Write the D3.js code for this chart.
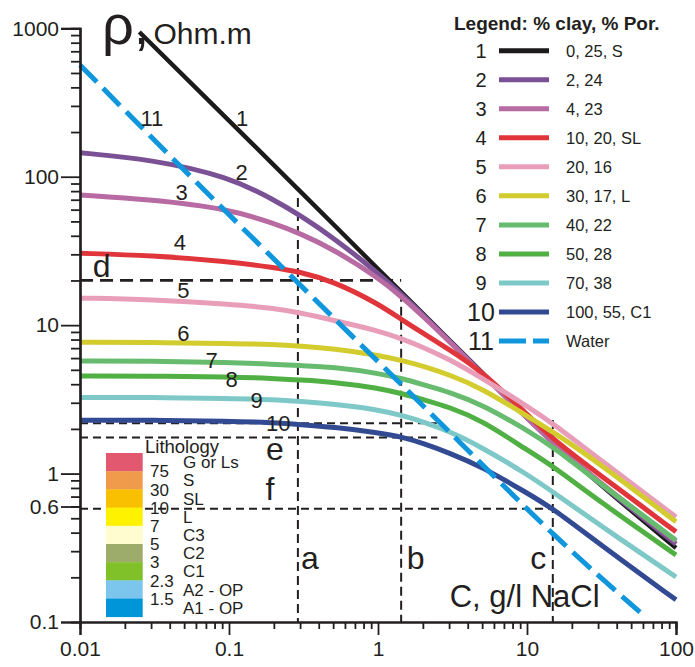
<!DOCTYPE html>
<html>
<head>
<meta charset="utf-8">
<script src="https://cdn.jsdelivr.net/npm/d3@7"></script>
<style>
  body { margin: 0; background: #fff; }
  svg { font-family: "Liberation Sans", Arial, sans-serif; }
</style>
</head>
<body>
<svg id="chart" width="695" height="667">
  <g id="guides"></g>
  <g id="curves"></g>
  <g id="x_axis"></g>
  <g id="y_axis"></g>
  <g id="labels"></g>
  <g id="legend"></g>
  <g id="litho"></g>
</svg>
<script>
// concentration grid, g/l NaCl (curves 2-10)
let conc = [0.01, 0.03, 0.1, 0.2, 0.3, 0.5, 1, 1.5, 2, 3, 5, 10, 15, 30, 100]

// resistivity, Ohm.m
let rho_2 = [145, 131, 100, 70, 55, 39, 22.5, 15.5, 11.8, 7.85, 4.72, 2.37, 1.6, 0.87, 0.335]
let rho_3 = [75.3, 70.2, 60.6, 48.5, 41.5, 32.5, 21, 15, 11.5, 7.8, 4.7, 2.37, 1.61, 0.88, 0.35]
let rho_4 = [30.5, 29.5, 26.8, 24.5, 22.8, 19.8, 14, 10.6, 8.85, 6.85, 4.88, 2.52, 1.69, 1.0, 0.405]
let rho_5 = [15.2, 14.9, 13.9, 13.0, 12.1, 10.8, 9.2, 8.0, 7.1, 5.9, 4.4, 2.85, 2.17, 1.27, 0.51]
let rho_6 = [7.66, 7.64, 7.54, 7.4, 7.23, 6.96, 6.29, 5.73, 5.3, 4.64, 3.75, 2.44, 1.91, 1.19, 0.473]
let rho_7 = [5.73, 5.72, 5.6, 5.45, 5.34, 5.22, 4.75, 4.33, 3.98, 3.55, 2.92, 1.96, 1.51, 0.877, 0.356]
let rho_8 = [4.54, 4.53, 4.49, 4.37, 4.27, 4.14, 3.77, 3.43, 3.15, 2.81, 2.28, 1.44, 1.12, 0.66, 0.283]
let rho_9 = [3.26, 3.26, 3.21, 3.15, 3.06, 2.94, 2.70, 2.44, 2.24, 1.93, 1.50, 0.99, 0.75, 0.457, 0.201]
let rho_10 = [2.29, 2.29, 2.26, 2.20, 2.14, 2.06, 1.89, 1.75, 1.60, 1.38, 1.11, 0.74, 0.58, 0.34, 0.141]

// curve 1 (clean sand) and water have their own grids
let conc_1 = [0.025, 0.1, 0.3, 1, 3, 10, 15, 30, 100]
let rho_1 = [944, 239, 80, 23.9, 8.0, 2.40, 1.61, 0.86, 0.315]
let conc_water = [0.01, 0.05, 0.6, 4, 15, 60]
let rho_water = [566, 110, 9.4, 1.45, 0.38, 0.112]

let curve_ids = ["1", "2", "3", "4", "5", "6", "7", "8", "9", "10", "11"]
let legend_labels = ["0, 25, S", "2, 24", "4, 23", "10, 20, SL", "20, 16", "30, 17, L",
  "40, 22", "50, 28", "70, 38", "100, 55, C1", "Water"]
let curve_colors = ["#1c1a1a", "#7a5195", "#b86aa2", "#e0353a", "#e89eb9", "#d2cc2e",
  "#66bb6e", "#50b043", "#7fc8c8", "#324a92", "#0f96dc"]

// curve number labels (conc, rho)
let curve_label_pos = [[0.1225, 248], [0.1215, 108], [0.0481, 79], [0.0468, 36.5], [0.0494, 17.2],
  [0.0494, 8.9], [0.0764, 5.82], [0.104, 4.31], [0.153, 3.13], [0.214, 2.18], [0.0304, 248]]

let x_ticks = [0.01, 0.1, 1, 10, 100]
let x_tick_labels = ["0.01", "0.1", "1", "10", "100"]
let y_ticks = [0.1, 0.6, 1, 10, 100, 1000]
let y_tick_labels = ["0.1", "0.6", "1", "10", "100", "1000"]

// construction lines
let v_guides = [{c: 0.29, top: 72, name: "a"}, {c: 1.43, top: 16.5, name: "b"}, {c: 14.9, top: 2.3, name: "c"}]
let h_guides = [{r: 20, end: 1.43, name: "d"}, {r: 2.18, end: 2.48, name: ""},
  {r: 1.75, end: 2.5, name: "e"}, {r: 0.58, end: 14.9, name: "f"}]
let guide_label_pos = {a: [0.349, 0.27], b: [1.79, 0.27], c: [11.9, 0.27],
  d: [0.014, 25.4], e: [0.203, 1.48], f: [0.188, 0.795]}

let litho_bounds = ["75", "30", "10", "7", "5", "3", "2.3", "1.5"]
let litho_names = ["G or Ls", "S", "SL", "L", "C3", "C2", "C1", "A2 - OP", "A1 - OP"]
let litho_colors = ["#e2586e", "#f09a4b", "#f8c000", "#fff200", "#fffccf", "#9dac6a",
  "#80c12a", "#7cc6ee", "#0094d8"]

let ink = "#231f20"

function make_scales() {
  return {
    x: d3.scaleLog().domain([0.01, 100]).range([80, 676]),
    y: d3.scaleLog().domain([0.1, 1000]).range([622, 28.3])
  }
}

function minor_values(lo, hi) {
  let out = []
  for (let d = lo; d < hi; d *= 10) {
    for (let k = 2; k < 10; k++) out.push(d * k)
  }
  return out
}

function draw_axes(scales) {
  let fmt_x = d => x_tick_labels[x_ticks.indexOf(d)]
  let fmt_y = d => y_tick_labels[y_ticks.indexOf(d)]

  let x_axis = d3.select("#x_axis").attr("transform", `translate(0, ${scales.y(0.1)})`)
  x_axis.append("g")
    .call(d3.axisBottom(scales.x).tickValues(minor_values(0.01, 100)).tickSize(7).tickFormat(""))
  x_axis.append("g")
    .call(d3.axisBottom(scales.x).tickValues(x_ticks).tickSize(13).tickPadding(6).tickFormat(fmt_x))

  let y_axis = d3.select("#y_axis").attr("transform", `translate(${scales.x(0.01)}, 0)`)
  y_axis.append("g")
    .call(d3.axisLeft(scales.y).tickValues(minor_values(0.1, 1000)).tickSize(9).tickFormat(""))
  y_axis.append("g")
    .call(d3.axisLeft(scales.y).tickValues(y_ticks).tickSize(19).tickPadding(2).tickFormat(fmt_y))

  d3.selectAll("#x_axis .domain, #y_axis .domain")
    .attr("stroke", ink).attr("stroke-width", 2.2)
  d3.selectAll("#x_axis line, #y_axis line")
    .attr("stroke", ink).attr("stroke-width", 1.8)
  d3.selectAll("#x_axis text, #y_axis text")
    .attr("fill", ink).style("font-size", "21px").style("font-family", "Liberation Sans, Arial, sans-serif")
}

function draw_guides(scales) {
  let g = d3.select("#guides")
  g.selectAll("line.v")
    .data(v_guides).enter()
    .append("line")
    .attr("class", "v")
    .attr("x1", d => scales.x(d.c)).attr("x2", d => scales.x(d.c))
    .attr("y1", d => scales.y(d.top)).attr("y2", scales.y(0.1))
    .attr("stroke", ink).attr("stroke-width", 2).attr("stroke-dasharray", "9,5")

  g.selectAll("line.h")
    .data(h_guides).enter()
    .append("line")
    .attr("class", "h")
    .attr("x1", scales.x(0.01)).attr("x2", d => scales.x(d.end))
    .attr("y1", d => scales.y(d.r)).attr("y2", d => scales.y(d.r))
    .attr("stroke", ink)
    .attr("stroke-width", d => d.name == "d" ? 2.8 : 2)
    .attr("stroke-dasharray", d => d.name == "d" ? "13,7" : "8,5")
}

function draw_curves(scales) {
  let series = [[conc_1, rho_1], [conc, rho_2], [conc, rho_3], [conc, rho_4], [conc, rho_5],
    [conc, rho_6], [conc, rho_7], [conc, rho_8], [conc, rho_9], [conc, rho_10], [conc_water, rho_water]]

  let path_generator = d3.line()
    .x(d => scales.x(d[0]))
    .y(d => scales.y(d[1]))
    .curve(d3.curveBasis)

  d3.select("#curves")
    .selectAll("path")
    .data(series).enter()
    .append("path")
    .attr("d", d => path_generator(d3.zip(d[0], d[1])))
    .attr("fill", "none")
    .attr("stroke", (d, i) => curve_colors[i])
    .attr("stroke-width", (d, i) => i == 0 ? 4.4 : 5)
    .attr("stroke-dasharray", (d, i) => i == 10 ? "24,9" : null)
}

function draw_labels(scales) {
  let g = d3.select("#labels")
  g.selectAll("text.num")
    .data(curve_label_pos).enter()
    .append("text")
    .attr("class", "num")
    .attr("x", d => scales.x(d[0])).attr("y", d => scales.y(d[1]))
    .attr("dy", "0.36em").attr("text-anchor", "middle")
    .attr("fill", ink).style("font-size", "22px")
    .text((d, i) => curve_ids[i])

  g.selectAll("text.guide")
    .data(Object.keys(guide_label_pos)).enter()
    .append("text")
    .attr("class", "guide")
    .attr("x", d => scales.x(guide_label_pos[d][0])).attr("y", d => scales.y(guide_label_pos[d][1]))
    .attr("dy", "0.36em").attr("text-anchor", "middle")
    .attr("fill", ink).style("font-size", "32px")
    .text(d => d)

  let title = g.append("text")
    .attr("x", scales.x(0.01405)).attr("y", scales.y(783))
    .attr("fill", ink)
  title.append("tspan").style("font-size", "56px").text("ρ,")
  title.append("tspan").style("font-size", "30px").attr("dx", 4).text("Ohm.m")

  g.append("text")
    .attr("x", scales.x(3.03)).attr("y", scales.y(0.126))
    .attr("fill", ink).style("font-size", "31px")
    .text("C, g/l NaCl")
}

function draw_legend() {
  let g = d3.select("#legend")
  g.append("text")
    .attr("x", 454).attr("y", 30)
    .attr("fill", ink).style("font-size", "19px").style("font-weight", "bold")
    .text("Legend: % clay, % Por.")

  let rows = g.selectAll("g.row")
    .data(curve_ids).enter()
    .append("g")
    .attr("class", "row")
    .attr("transform", (d, i) => `translate(0, ${50.7 + i * 29.03})`)

  rows.append("text")
    .attr("x", 481).attr("dy", "0.36em").attr("text-anchor", "middle")
    .attr("fill", ink)
    .style("font-size", (d, i) => i >= 9 ? "25px" : "20px")
    .text(d => d)

  rows.append("line")
    .attr("x1", 499).attr("x2", 549)
    .attr("stroke", (d, i) => curve_colors[i])
    .attr("stroke-width", 5)
    .attr("stroke-dasharray", (d, i) => i == 10 ? "27,7" : null)

  rows.append("text")
    .attr("x", 566).attr("dy", "0.36em")
    .attr("fill", ink).style("font-size", "16.5px")
    .text((d, i) => legend_labels[i])
}

function draw_litho() {
  let g = d3.select("#litho")
  let top = 453, h = 18.2
  g.append("text")
    .attr("x", 145).attr("y", 446.7).attr("dy", "0.36em")
    .attr("fill", ink).style("font-size", "18.5px")
    .text("Lithology")

  g.selectAll("rect")
    .data(litho_colors).enter()
    .append("rect")
    .attr("x", 106).attr("width", 36.7)
    .attr("y", (d, i) => top + i * h).attr("height", h + 0.3)
    .attr("fill", d => d)

  g.selectAll("text.bound")
    .data(litho_bounds).enter()
    .append("text")
    .attr("class", "bound")
    .attr("x", 150).attr("y", (d, i) => top + (i + 1) * h).attr("dy", "0.36em")
    .attr("fill", ink).style("font-size", "17px")
    .text(d => d)

  g.selectAll("text.name")
    .data(litho_names).enter()
    .append("text")
    .attr("class", "name")
    .attr("x", 183).attr("y", (d, i) => top + (i + 0.5) * h).attr("dy", "0.36em")
    .attr("fill", ink).style("font-size", "17px")
    .text(d => d)
}

function visualize() {
  let scales = make_scales()
  draw_guides(scales)
  draw_curves(scales)
  draw_axes(scales)
  draw_labels(scales)
  draw_legend()
  draw_litho()
}

visualize()
</script>
</body>
</html>
